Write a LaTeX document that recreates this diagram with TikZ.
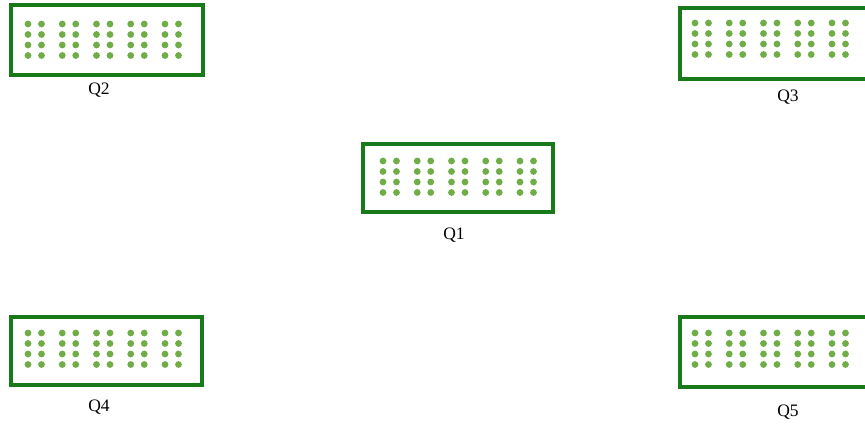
\documentclass[tikz,border=0pt]{standalone}
\usepackage{fontspec}
\setmainfont{Liberation Serif}
\definecolor{boxgreen}{RGB}{24,122,24}
\definecolor{dotgreen}{RGB}{112,173,71}
\tikzset{
  x=1pt, y=-1pt,
  qbox/.style={draw=boxgreen, line width=3.3pt, fill=white, inner sep=0pt},
  qlabel/.style={anchor=base, inner sep=0pt, font=\fontsize{17.5}{20}\selectfont},
  qdot/.style={fill=dotgreen, draw=none}
}
\newcommand\dotgrid[2]{%
  \foreach \k in {0,...,4}{%
    \foreach \j in {0,1}{%
      \foreach \r in {0,...,3}{%
        \fill[qdot] ({#1+34.25*\k+13.5*\j},{#2+10.5*\r}) circle (3.4pt);
      }%
    }%
  }%
}
\begin{document}
\begin{tikzpicture}
\useasboundingbox (0,0) rectangle (865,426);
\clip (0,0) rectangle (865,426);
% Q2
\node[qbox, minimum width=192pt, minimum height=70pt] (q2) at (107,40) {};
\dotgrid{28}{24}
\node[qlabel] (l2) at (99,94) {Q2};
% Q1
\node[qbox, minimum width=190pt, minimum height=68pt] (q1) at (458,178) {};
\dotgrid{383}{161}
\node[qlabel] (l1) at (454,239) {Q1};
% Q3
\node[qbox, minimum width=196pt, minimum height=71pt] (q3) at (778,43.5) {};
\dotgrid{695}{23}
\node[qlabel] (l3) at (788,101) {Q3};
% Q4
\node[qbox, minimum width=191pt, minimum height=68pt] (q4) at (106.5,351) {};
\dotgrid{28}{333}
\node[qlabel] (l4) at (99,411) {Q4};
% Q5
\node[qbox, minimum width=196pt, minimum height=70pt] (q5) at (778,352) {};
\dotgrid{695}{333}
\node[qlabel] (l5) at (788,416) {Q5};
\end{tikzpicture}
\end{document}
